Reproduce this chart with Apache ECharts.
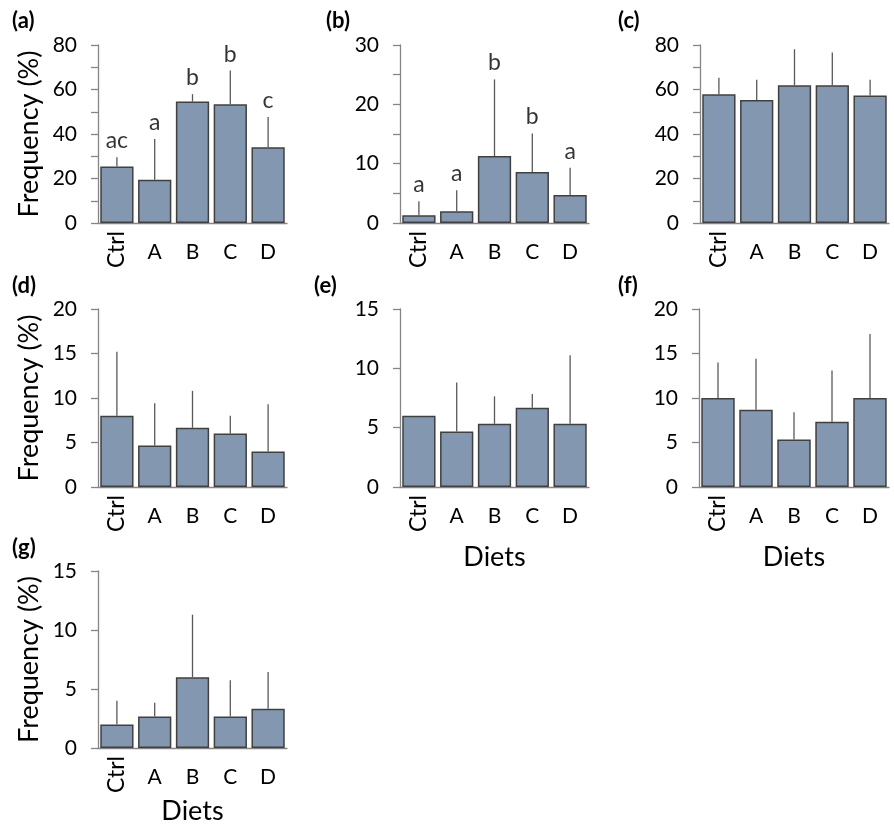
<!DOCTYPE html>
<html><head><meta charset="utf-8">
<script src="https://cdn.jsdelivr.net/npm/echarts@6/dist/echarts.min.js"></script>
<style>html,body{margin:0;padding:0;background:#fff}#c{width:894px;height:826px}</style>
</head><body><div id="c"></div>
<script>
// ---- data ----
const categories = ['Ctrl', 'A', 'B', 'C', 'D'];

const meanA = [25.4, 19.4, 54.6, 53.4, 34.1];
const errA  = [4.2, 18.3, 3.3, 15.1, 13.5];
const lettersA = ['ac', 'a', 'b', 'b', 'c'];

const meanB = [1.3, 2.0, 11.3, 8.6, 4.7];
const errB  = [2.35, 3.5, 12.9, 6.5, 4.6];
const lettersB = ['a', 'a', 'b', 'b', 'a'];

const meanC = [57.9, 55.3, 61.9, 61.9, 57.3];
const errC  = [7.4, 9.1, 16.2, 14.7, 7.1];

const meanD = [8.0, 4.65, 6.65, 6.0, 4.0];
const errD  = [7.2, 4.75, 4.15, 2.0, 5.3];

const meanE = [6.0, 4.67, 5.33, 6.67, 5.33];
const errE  = [0, 4.13, 2.31, 1.17, 5.77];

const meanF = [10.0, 8.67, 5.33, 7.33, 10.0];
const errF  = [4.0, 5.73, 3.07, 5.77, 7.2];

const meanG = [2.0, 2.67, 6.0, 2.67, 3.33];
const errG  = [2.0, 1.17, 5.3, 3.08, 3.12];

const panelLabels = ['(a)', '(b)', '(c)', '(d)', '(e)', '(f)', '(g)'];
const yMaxes = [80, 30, 80, 20, 15, 20, 15];
const yTickSteps = [10, 5, 10, 5, 5, 5, 5];
const yLabelSteps = [20, 10, 20, 5, 5, 5, 5];
const yTitle = 'Frequency (%)';
const xTitle = 'Diets';

// ---- layout ----
const FONT = 'Lato, "Open Sans", sans-serif';
const layout = [
  {left: 98,  top: 45,  width: 189, height: 178, tl: 12,  tt: 10,  yName: true,  xName: false},
  {left: 400, top: 45,  width: 189, height: 178, tl: 326, tt: 10,  yName: false, xName: false},
  {left: 700, top: 45,  width: 189, height: 178, tl: 618, tt: 10,  yName: false, xName: false},
  {left: 98,  top: 309, width: 189, height: 178, tl: 12,  tt: 275, yName: true,  xName: false},
  {left: 400, top: 309, width: 189, height: 178, tl: 314, tt: 275, yName: false, xName: true, xGap: 57},
  {left: 699, top: 309, width: 190, height: 178, tl: 618, tt: 275, yName: false, xName: true, xGap: 57},
  {left: 98,  top: 571, width: 189, height: 178, tl: 12,  tt: 537, yName: true,  xName: true, xGap: 50}
];
const means = [meanA, meanB, meanC, meanD, meanE, meanF, meanG];
const errs = [errA, errB, errC, errD, errE, errF, errG];
const letters = [lettersA, lettersB, null, null, null, null, null];

const axisGray = '#868686';
const option = {animation: false, title: [], grid: [], xAxis: [], yAxis: [], series: []};

layout.forEach((L, i) => {
  option.grid.push({left: L.left, top: L.top, width: L.width, height: L.height});
  option.title.push({
    text: panelLabels[i], left: L.tl, top: L.tt, padding: 0,
    textStyle: {fontFamily: FONT, fontWeight: 'bold', fontSize: 22, color: '#000'}
  });
  // main x axis (A-D horizontal labels)
  option.xAxis.push({
    type: 'category', gridIndex: i, data: categories, position: 'bottom',
    axisLine: {lineStyle: {color: axisGray, width: 1.3}},
    axisTick: {show: false},
    axisLabel: {interval: 0, margin: 19, fontFamily: FONT, fontSize: 21, color: '#000',
      formatter: v => (v === 'Ctrl' ? '' : v)},
    name: L.xName ? xTitle : '', nameLocation: 'middle', nameGap: L.xGap || 50,
    nameTextStyle: {fontFamily: FONT, fontSize: 27, color: '#000'}
  });
  // overlay x axis (rotated Ctrl)
  option.xAxis.push({
    type: 'category', gridIndex: i, data: categories, position: 'bottom',
    axisLine: {show: false}, axisTick: {show: false},
    axisLabel: {interval: 0, rotate: 90, margin: 8, fontFamily: FONT, fontSize: 23, color: '#000',
      formatter: v => (v === 'Ctrl' ? v : '')}
  });
  option.yAxis.push({
    type: 'value', gridIndex: i, min: 0, max: yMaxes[i], interval: yTickSteps[i],
    splitLine: {show: false},
    axisLine: {show: true, lineStyle: {color: axisGray, width: 1.3}},
    axisTick: {show: true, length: 7, lineStyle: {color: axisGray, width: 1.3}},
    axisLabel: {margin: 21, fontFamily: FONT, fontSize: 21, color: '#000',
      formatter: v => (v % yLabelSteps[i] === 0 ? String(v) : '')},
    name: L.yName ? yTitle : '', nameLocation: 'middle', nameRotate: 90, nameGap: 55,
    nameTextStyle: {fontFamily: FONT, fontSize: 27, color: '#000'}
  });
  option.series.push({
    type: 'bar', xAxisIndex: 2 * i, yAxisIndex: i, data: means[i],
    barCategoryGap: '12%',
    itemStyle: {color: '#8497B0', borderColor: '#404040', borderWidth: 1.5},
    z: 2
  });
  option.series.push({
    type: 'custom', xAxisIndex: 2 * i, yAxisIndex: i,
    data: categories.map((c, j) => [j, means[i][j], errs[i][j]]),
    encode: {x: 0, y: 1},
    renderItem: (params, api) => {
      const x = api.value(0), m = api.value(1), e = api.value(2);
      const p0 = api.coord([x, m]);
      const p1 = api.coord([x, m + e]);
      return {type: 'line', shape: {x1: p0[0], y1: p0[1], x2: p1[0], y2: p1[1]},
        style: {stroke: '#595959', lineWidth: 1.3}};
    },
    z: 3
  });
  if (letters[i]) {
    option.series.push({
      type: 'scatter', xAxisIndex: 2 * i, yAxisIndex: i, symbolSize: 0,
      data: categories.map((c, j) => [j, means[i][j] + errs[i][j]]),
      label: {show: true, position: 'top', distance: 5, fontFamily: FONT, fontSize: 23, color: '#000',
        formatter: p => letters[i][p.dataIndex]},
      z: 4
    });
  }
});

const chart = echarts.init(document.getElementById('c'), null, {renderer: 'canvas'});
chart.setOption(option);
</script>
</body></html>
